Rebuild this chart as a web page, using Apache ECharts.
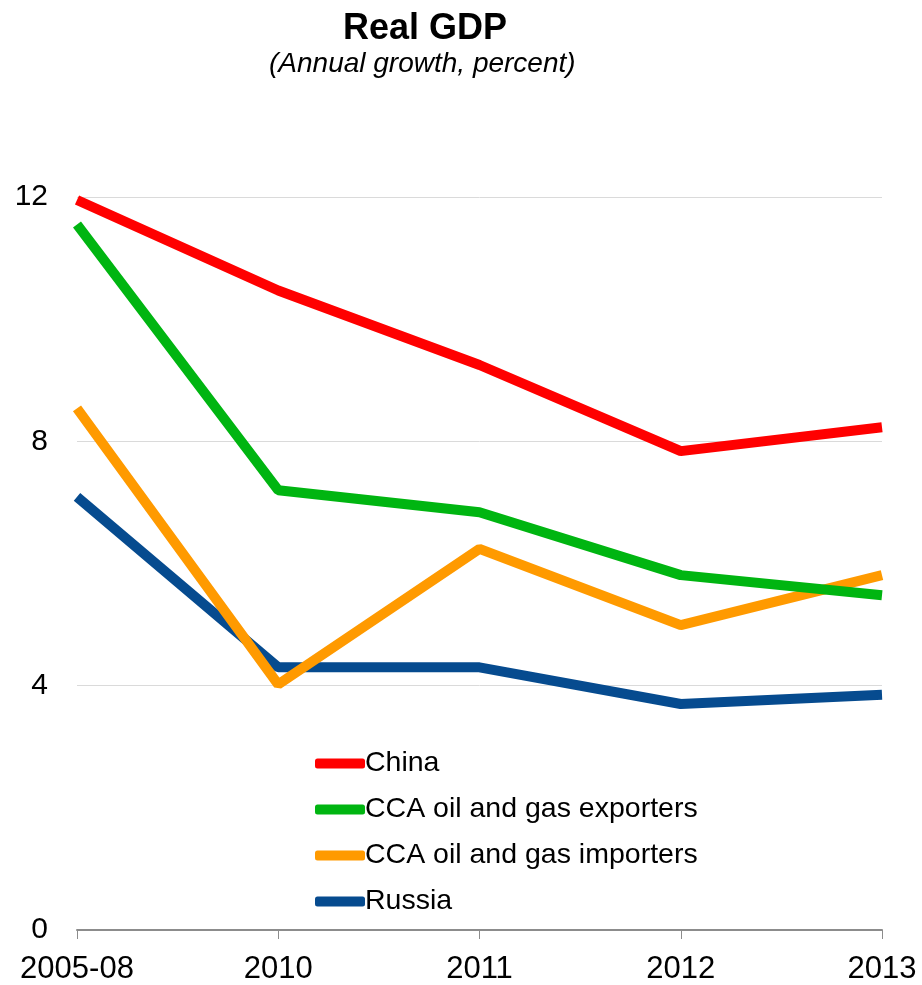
<!DOCTYPE html>
<html>
<head>
<meta charset="utf-8">
<script src="https://cdn.jsdelivr.net/npm/echarts@6/dist/echarts.min.js"></script>
<style>
  html, body { margin: 0; padding: 0; background: #fff; }
  #main { width: 922px; height: 985px; }
</style>
</head>
<body>
<div id="main"></div>
<script>
var years = ['2005-08', '2010', '2011', '2012', '2013']
var china = [11.95, 10.47, 9.25, 7.84, 8.23]
var exporters = [11.55, 7.2, 6.84, 5.81, 5.48]
var importers = [8.54, 4.02, 6.24, 4.99, 5.81]
var russia = [7.09, 4.3, 4.3, 3.7, 3.85]
var yTicks = [0, 4, 8, 12]

var names = ['China', 'CCA oil and gas exporters', 'CCA oil and gas importers', 'Russia']
var colors = ['#ff0000', '#00b511', '#ff9a00', '#064b8f']
var seriesData = [china, exporters, importers, russia]

var chart = echarts.init(document.getElementById('main'))

var series = []
for (let i = 0; i < names.length; i++) {
  series.push({
    name: names[i],
    type: 'line',
    data: seriesData[i],
    symbol: 'none',
    lineStyle: { width: 10, color: colors[i] },
    itemStyle: { color: colors[i] },
    z: 10 - i
  })
}

var option = {
  animation: false,
  backgroundColor: '#fff',
  title: [
    {
      text: 'Real GDP',
      left: 338,
      top: 6,
      textStyle: { fontFamily: 'Liberation Sans', fontSize: 36, fontWeight: 'bold', color: '#000' }
    },
    {
      text: '(Annual growth, percent)',
      left: 264,
      top: 45,
      textStyle: { fontFamily: 'Liberation Sans', fontSize: 28, fontStyle: 'italic', fontWeight: 'normal', color: '#000' }
    }
  ],
  legend: {
    orient: 'vertical',
    left: 310,
    top: 744,
    itemGap: 17,
    itemWidth: 50,
    itemHeight: 10,
    icon: 'roundRect',
    data: names,
    textStyle: { fontFamily: 'Liberation Sans', fontSize: 28.5, color: '#000', padding: [0, 0, 0, -5] }
  },
  grid: { left: 77, right: 40, top: 197, bottom: 55 },
  xAxis: {
    type: 'category',
    data: years,
    boundaryGap: false,
    axisLine: { lineStyle: { color: '#8c8c8c', width: 2 } },
    axisTick: { show: true, length: 9, lineStyle: { color: '#8c8c8c', width: 1 } },
    axisLabel: {
      fontFamily: 'Liberation Sans',
      fontSize: 31, color: '#000', margin: 24, interval: 0
    }
  },
  yAxis: {
    type: 'value',
    min: yTicks[0],
    max: yTicks[yTicks.length - 1],
    interval: 4,
    axisLine: { show: false },
    axisTick: { show: false },
    splitLine: { lineStyle: { color: '#dadada', width: 1 } },
    axisLabel: { fontFamily: 'Liberation Sans', fontSize: 30, color: '#000', margin: 29 }
  },
  series: series
}
chart.setOption(option)
</script>
</body>
</html>
